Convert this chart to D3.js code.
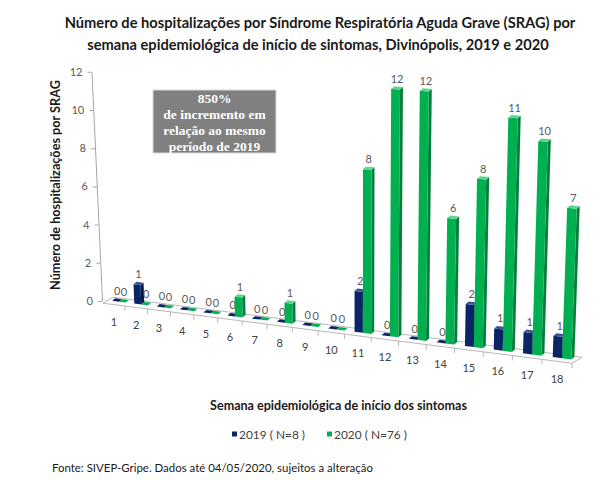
<!DOCTYPE html>
<html>
<head>
<meta charset="utf-8">
<script src="https://cdn.jsdelivr.net/npm/d3@7"></script>
<style>
  body { margin: 0; background: #fff; }
  svg { font-family: Lato, "Open Sans", sans-serif; }
</style>
</head>
<body>
<script>
// data
const weeks = [1, 2, 3, 4, 5, 6, 7, 8, 9, 10, 11, 12, 13, 14, 15, 16, 17, 18];
const cases2019 = [0, 1, 0, 0, 0, 0, 0, 0, 0, 0, 2, 0, 0, 0, 2, 1, 1, 1];
const cases2020 = [0, 0, 0, 0, 0, 1, 0, 1, 0, 0, 8, 12, 12, 6, 8, 11, 10, 7];
const seriesNames = ["2019 ( N=8 )", "2020 ( N=76 )"];
const yTicks = [0, 2, 4, 6, 8, 10, 12];
const titleLines = [
  "Número de hospitalizações por Síndrome Respiratória Aguda Grave (SRAG) por",
  "semana epidemiológica de início de sintomas, Divinópolis, 2019 e 2020"
];
const boxLines = ["850%", "de incremento em", "relação ao mesmo", "período de 2019"];

const width = 611, height = 480;
const colors = [
  { front: "#0b2466", side: "#061640", top: "#3a5596" },
  { front: "#00b050", side: "#00803a", top: "#5fd48f" }
];

const svg = d3.select("body").append("svg")
  .attr("width", width)
  .attr("height", height);

// shrink/grow font size until the text spans the wanted width
function fit(sel, target) {
  const size = parseFloat(sel.attr("font-size"));
  const len = sel.node().getComputedTextLength();
  sel.attr("font-size", (size * target / len).toFixed(2));
  return size * target / len;
}

//Title
const t1 = svg.append("text")
  .attr("x", 320).attr("y", 22)
  .attr("text-anchor", "middle").attr("dominant-baseline", "central")
  .attr("font-size", 14).attr("font-weight", "bold").attr("fill", "#1a1a1a")
  .text(titleLines[0]);
const titleSize = fit(t1, 511);
svg.append("text")
  .attr("x", 318).attr("y", 44)
  .attr("text-anchor", "middle").attr("dominant-baseline", "central")
  .attr("font-size", titleSize).attr("font-weight", "bold").attr("fill", "#1a1a1a")
  .text(titleLines[1]);

// pseudo 3D geometry: spacing and bar heights grow toward the front right
const idx = d3.scaleLinear().domain([1, 18]).range([0, 17]);
const X0 = 119, STEP = 22, GROW = 0.239;
const catX = (w) => { const i = idx(w); return X0 + STEP * i + GROW * i * i; };
const catStep = (w) => STEP + 2 * GROW * idx(w);
const baseY = d3.scaleLinear().domain([118, 562]).range([301.5, 358.3]);
const unit = d3.scaleLinear().domain([102, 562]).range([19.1, 21.5]);
const lean = (x, h) => (x - 360) * h / 6000;
const D = [3, -2.5];
const pt = (p) => p.join(",");

//Floor
const fl = catX(1) - catStep(1) / 2;
const fr = catX(18) + catStep(18) / 2;
const floor = [
  [fl - 5, baseY(fl) + 3], [fr - 5, baseY(fr) + 3],
  [fr + 5, baseY(fr) - 3], [fl + 5, baseY(fl) - 3]
];
svg.append("polygon")
  .attr("points", floor.map(pt).join(" "))
  .attr("fill", "#fff").attr("stroke", "#a6a6a6").attr("stroke-width", 0.8);

// category ticks on the floor front edge
const bounds = weeks.slice(0, -1).map((w) => (catX(w) + catX(w + 1)) / 2).concat([fr]);
svg.append("g").selectAll("line")
  .data(bounds)
  .enter().append("line")
  .attr("x1", (x) => x - 5).attr("y1", (x) => baseY(x) + 3)
  .attr("x2", (x) => x - 5.3).attr("y2", (x) => baseY(x) + 8)
  .attr("stroke", "#a6a6a6").attr("stroke-width", 0.8);

// category labels
svg.append("g").selectAll("text")
  .data(weeks)
  .enter().append("text")
  .attr("x", (w) => catX(w) - 5)
  .attr("y", (w) => baseY(catX(w)) + 20)
  .attr("text-anchor", "middle").attr("dominant-baseline", "central")
  .attr("font-size", 11).attr("fill", "#404040")
  .text((w) => w);

//Y axis, slightly tilted like the perspective wall edge
const yScale = d3.scaleLinear().domain([0, 12]).range([0, -12 * unit(102)]);
const yAxis = svg.append("g")
  .attr("transform", "translate(102,301) skewX(2.63)")
  .call(d3.axisLeft(yScale).tickValues(yTicks).tickSize(4).tickSizeOuter(0).tickPadding(5));
yAxis.attr("font-family", null);
yAxis.select(".domain").attr("stroke", "#a6a6a6");
yAxis.selectAll(".tick line").attr("stroke", "#a6a6a6");
yAxis.selectAll(".tick text")
  .attr("font-size", 11).attr("fill", "#595959");

// bars
const bars = [];
weeks.forEach((w, i) => {
  [cases2019[i], cases2020[i]].forEach((v, s) => {
    const c = catX(w), bw = 0.31 * catStep(w);
    const x0 = s === 0 ? c - bw : c, x1 = x0 + bw;
    const hl = v * unit(x0), hr = v * unit(x1);
    const bl = [x0, baseY(x0)], br = [x1, baseY(x1)];
    const tl = [x0 + lean(x0, hl), baseY(x0) - hl];
    const tr = [x1 + lean(x1, hr), baseY(x1) - hr];
    const add = (p) => [p[0] + D[0], p[1] + D[1]];
    bars.push({ v, s, bl, br, tl, tr, brD: add(br), trD: add(tr), tlD: add(tl) });
  });
});

const barG = svg.append("g");
bars.forEach((b) => {
  const col = colors[b.s];
  const g = barG.append("g");
  if (b.v > 0) {
    g.append("polygon").attr("points", [b.br, b.brD, b.trD, b.tr].map(pt).join(" "))
      .attr("fill", col.side);
    g.append("polygon").attr("points", [b.bl, b.br, b.tr, b.tl].map(pt).join(" "))
      .attr("fill", col.front);
  }
  g.append("polygon").attr("points", [b.tl, b.tr, b.trD, b.tlD].map(pt).join(" "))
    .attr("fill", b.v > 0 ? col.top : col.front);
});

// data labels
svg.append("g").selectAll("text")
  .data(bars)
  .enter().append("text")
  .attr("x", (b) => (b.tl[0] + b.tr[0]) / 2 + 1.5)
  .attr("y", (b) => Math.min(b.tl[1], b.tr[1]) - 6)
  .attr("text-anchor", "middle")
  .attr("font-size", 11).attr("fill", "#595959")
  .text((b) => b.v);

//Axis titles
const yt = svg.append("text")
  .attr("transform", "translate(55,185) rotate(-90)")
  .attr("text-anchor", "middle").attr("dominant-baseline", "central")
  .attr("font-size", 12).attr("font-weight", "bold").attr("fill", "#1a1a1a")
  .text("Número de hospitalizações por SRAG");
fit(yt, 210);

const xt = svg.append("text")
  .attr("x", 338.5).attr("y", 405)
  .attr("text-anchor", "middle").attr("dominant-baseline", "central")
  .attr("font-size", 12).attr("font-weight", "bold").attr("fill", "#1a1a1a")
  .text("Semana epidemiológica de início dos sintomas");
fit(xt, 257);

//Annotation box
svg.append("rect")
  .attr("x", 153).attr("y", 90).attr("width", 123).attr("height", 63)
  .attr("fill", "#808080").attr("stroke", "#d9d9d9").attr("stroke-width", 1);
svg.append("g").selectAll("text")
  .data(boxLines)
  .enter().append("text")
  .attr("x", 214.5)
  .attr("y", (d, i) => 98 + i * 16.3)
  .attr("text-anchor", "middle").attr("dominant-baseline", "central")
  .style("font-family", "'Liberation Serif', 'Times New Roman', serif")
  .attr("font-weight", "bold").attr("font-size", 13.5).attr("fill", "#fff")
  .text((d) => d);

//Legend
const legendX = [232, 327];
const legend = svg.append("g").selectAll("g")
  .data(seriesNames)
  .enter().append("g")
  .attr("transform", (d, i) => `translate(${legendX[i]},434)`);
legend.append("rect")
  .attr("x", 0).attr("y", -2.5).attr("width", 5).attr("height", 5)
  .attr("fill", (d, i) => colors[i].front);
const legendText = legend.append("text")
  .attr("x", 7).attr("dominant-baseline", "central")
  .attr("font-size", 12).attr("fill", "#404040")
  .text((d) => d);
const legendSize = fit(d3.select(legendText.nodes()[1]), 73);
legendText.attr("font-size", legendSize);

//Source
const src = svg.append("text")
  .attr("x", 52).attr("y", 467)
  .attr("dominant-baseline", "central")
  .attr("font-size", 12).attr("fill", "#1a1a1a")
  .text("Fonte: SIVEP-Gripe. Dados até 04/05/2020, sujeitos a alteração");
fit(src, 321);
</script>
</body>
</html>
